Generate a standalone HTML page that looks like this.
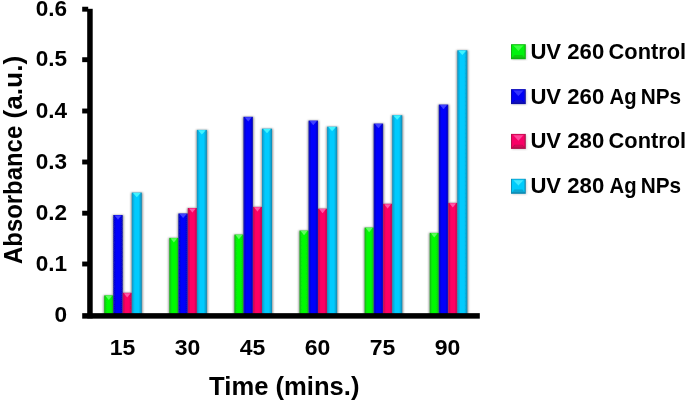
<!DOCTYPE html>
<html lang="en"><head><meta charset="utf-8"><title>Absorbance vs Time</title>
<style>
html,body{margin:0;padding:0;background:#fff;}
body{width:685px;height:401px;overflow:hidden;}
svg{display:block;}
text{font-family:"Liberation Sans",sans-serif;font-weight:bold;fill:#000;}
</style></head><body>
<svg width="685" height="401" viewBox="0 0 685 401">
<defs>
<linearGradient id="gg" x1="0" x2="1" y1="0" y2="0"><stop offset="0" stop-color="#14b414"/><stop offset="0.3" stop-color="#02fb04"/><stop offset="0.7" stop-color="#02fb04"/><stop offset="1" stop-color="#14b414"/></linearGradient>
<linearGradient id="gb" x1="0" x2="1" y1="0" y2="0"><stop offset="0" stop-color="#0a0ab0"/><stop offset="0.3" stop-color="#0202fc"/><stop offset="0.7" stop-color="#0202fc"/><stop offset="1" stop-color="#0a0ab0"/></linearGradient>
<linearGradient id="gp" x1="0" x2="1" y1="0" y2="0"><stop offset="0" stop-color="#b80a50"/><stop offset="0.3" stop-color="#fd0264"/><stop offset="0.7" stop-color="#fd0264"/><stop offset="1" stop-color="#b80a50"/></linearGradient>
<linearGradient id="gc" x1="0" x2="1" y1="0" y2="0"><stop offset="0" stop-color="#1290be"/><stop offset="0.3" stop-color="#02cbfe"/><stop offset="0.7" stop-color="#02cbfe"/><stop offset="1" stop-color="#0e88b2"/></linearGradient>
<filter id="sh" x="-20%" y="-5%" width="140%" height="110%"><feGaussianBlur stdDeviation="1.1"/></filter>
<filter id="soft" x="-5%" y="-5%" width="110%" height="110%"><feGaussianBlur stdDeviation="0.6"/></filter>
<filter id="lsoft" x="-10%" y="-10%" width="120%" height="120%"><feGaussianBlur stdDeviation="0.7"/></filter>
<filter id="tsoft" x="-5%" y="-20%" width="110%" height="140%"><feGaussianBlur stdDeviation="0.35"/></filter>
</defs>
<rect width="685" height="401" fill="#fff"/>

<g filter="url(#sh)" fill="#000" opacity="0.42">
<rect x="103.4" y="295.4" width="10.9" height="20.6"/>
<rect x="112.5" y="215.0" width="11.2" height="101.0"/>
<rect x="121.9" y="292.8" width="10.9" height="23.2"/>
<rect x="131.0" y="192.6" width="11.8" height="123.4"/>
<rect x="168.5" y="237.9" width="10.9" height="78.1"/>
<rect x="177.6" y="213.5" width="11.2" height="102.5"/>
<rect x="187.0" y="208.0" width="10.9" height="108.0"/>
<rect x="196.1" y="129.9" width="11.8" height="186.1"/>
<rect x="233.6" y="234.6" width="10.9" height="81.4"/>
<rect x="242.7" y="116.8" width="11.2" height="199.2"/>
<rect x="252.1" y="206.9" width="10.9" height="109.1"/>
<rect x="261.2" y="128.7" width="11.8" height="187.3"/>
<rect x="298.7" y="230.6" width="10.9" height="85.4"/>
<rect x="307.8" y="120.6" width="11.2" height="195.4"/>
<rect x="317.2" y="208.7" width="10.9" height="107.3"/>
<rect x="326.3" y="126.7" width="11.8" height="189.3"/>
<rect x="363.8" y="227.6" width="10.9" height="88.4"/>
<rect x="372.9" y="123.6" width="11.2" height="192.4"/>
<rect x="382.3" y="203.8" width="10.9" height="112.2"/>
<rect x="391.4" y="115.2" width="11.8" height="200.8"/>
<rect x="428.9" y="232.9" width="10.9" height="83.1"/>
<rect x="438.0" y="104.6" width="11.2" height="211.4"/>
<rect x="447.4" y="202.9" width="10.9" height="113.1"/>
<rect x="456.5" y="50.3" width="11.8" height="265.7"/>
</g>
<g filter="url(#soft)">
<rect x="104.2" y="295.4" width="9.1" height="20.6" fill="url(#gg)"/>
<path d="M105.4 295.8 L112.1 295.8 L108.8 300.0 Z" fill="#5cff5c"/>
<rect x="113.3" y="215.0" width="9.4" height="101.0" fill="url(#gb)"/>
<path d="M114.5 215.4 L121.5 215.4 L118.0 219.6 Z" fill="#4040ff"/>
<rect x="122.7" y="292.8" width="9.1" height="23.2" fill="url(#gp)"/>
<path d="M123.9 293.2 L130.6 293.2 L127.2 297.4 Z" fill="#ff58a8"/>
<rect x="131.8" y="192.6" width="10.0" height="123.4" fill="url(#gc)"/>
<path d="M133.0 193.0 L140.6 193.0 L136.8 197.2 Z" fill="#40f4ff"/>
<rect x="169.3" y="237.9" width="9.1" height="78.1" fill="url(#gg)"/>
<path d="M170.5 238.3 L177.2 238.3 L173.9 242.5 Z" fill="#5cff5c"/>
<rect x="178.4" y="213.5" width="9.4" height="102.5" fill="url(#gb)"/>
<path d="M179.6 213.9 L186.6 213.9 L183.1 218.1 Z" fill="#4040ff"/>
<rect x="187.8" y="208.0" width="9.1" height="108.0" fill="url(#gp)"/>
<path d="M189.0 208.4 L195.7 208.4 L192.4 212.6 Z" fill="#ff58a8"/>
<rect x="196.9" y="129.9" width="10.0" height="186.1" fill="url(#gc)"/>
<path d="M198.1 130.3 L205.7 130.3 L201.9 134.5 Z" fill="#40f4ff"/>
<rect x="234.4" y="234.6" width="9.1" height="81.4" fill="url(#gg)"/>
<path d="M235.6 235.0 L242.3 235.0 L238.9 239.2 Z" fill="#5cff5c"/>
<rect x="243.5" y="116.8" width="9.4" height="199.2" fill="url(#gb)"/>
<path d="M244.7 117.2 L251.7 117.2 L248.2 121.4 Z" fill="#4040ff"/>
<rect x="252.9" y="206.9" width="9.1" height="109.1" fill="url(#gp)"/>
<path d="M254.1 207.3 L260.8 207.3 L257.4 211.5 Z" fill="#ff58a8"/>
<rect x="262.0" y="128.7" width="10.0" height="187.3" fill="url(#gc)"/>
<path d="M263.2 129.1 L270.8 129.1 L267.0 133.3 Z" fill="#40f4ff"/>
<rect x="299.5" y="230.6" width="9.1" height="85.4" fill="url(#gg)"/>
<path d="M300.7 231.0 L307.4 231.0 L304.1 235.2 Z" fill="#5cff5c"/>
<rect x="308.6" y="120.6" width="9.4" height="195.4" fill="url(#gb)"/>
<path d="M309.8 121.0 L316.8 121.0 L313.3 125.2 Z" fill="#4040ff"/>
<rect x="318.0" y="208.7" width="9.1" height="107.3" fill="url(#gp)"/>
<path d="M319.2 209.1 L325.9 209.1 L322.6 213.3 Z" fill="#ff58a8"/>
<rect x="327.1" y="126.7" width="10.0" height="189.3" fill="url(#gc)"/>
<path d="M328.3 127.1 L335.9 127.1 L332.1 131.3 Z" fill="#40f4ff"/>
<rect x="364.6" y="227.6" width="9.1" height="88.4" fill="url(#gg)"/>
<path d="M365.8 228.0 L372.5 228.0 L369.1 232.2 Z" fill="#5cff5c"/>
<rect x="373.7" y="123.6" width="9.4" height="192.4" fill="url(#gb)"/>
<path d="M374.9 124.0 L381.9 124.0 L378.4 128.2 Z" fill="#4040ff"/>
<rect x="383.1" y="203.8" width="9.1" height="112.2" fill="url(#gp)"/>
<path d="M384.3 204.2 L391.0 204.2 L387.6 208.4 Z" fill="#ff58a8"/>
<rect x="392.2" y="115.2" width="10.0" height="200.8" fill="url(#gc)"/>
<path d="M393.4 115.6 L401.0 115.6 L397.2 119.8 Z" fill="#40f4ff"/>
<rect x="429.7" y="232.9" width="9.1" height="83.1" fill="url(#gg)"/>
<path d="M430.9 233.3 L437.6 233.3 L434.2 237.5 Z" fill="#5cff5c"/>
<rect x="438.8" y="104.6" width="9.4" height="211.4" fill="url(#gb)"/>
<path d="M440.0 105.0 L447.0 105.0 L443.5 109.2 Z" fill="#4040ff"/>
<rect x="448.2" y="202.9" width="9.1" height="113.1" fill="url(#gp)"/>
<path d="M449.4 203.3 L456.1 203.3 L452.8 207.5 Z" fill="#ff58a8"/>
<rect x="457.3" y="50.3" width="10.0" height="265.7" fill="url(#gc)"/>
<path d="M458.5 50.7 L466.1 50.7 L462.3 54.9 Z" fill="#40f4ff"/>
</g>
<g filter="url(#soft)" fill="#000">
<rect x="87.2" y="8.8" width="5.5" height="309.6"/>
<rect x="82.2" y="313.15" width="397.6" height="5.5"/>
<rect x="82.2" y="261.55" width="6" height="4.9"/>
<rect x="82.2" y="210.75" width="6" height="4.9"/>
<rect x="82.2" y="159.55" width="6" height="4.9"/>
<rect x="82.2" y="108.55" width="6" height="4.9"/>
<rect x="82.2" y="57.25" width="6" height="4.9"/>
<rect x="82.2" y="6.75" width="6" height="4.9"/>
</g>
<g filter="url(#tsoft)">
<text x="67.1" y="322.4" font-size="22.3" text-anchor="end" textLength="12.6" lengthAdjust="spacingAndGlyphs">0</text>
<text x="67.1" y="270.5" font-size="22.3" text-anchor="end" textLength="31.4" lengthAdjust="spacingAndGlyphs">0.1</text>
<text x="67.1" y="219.7" font-size="22.3" text-anchor="end" textLength="31.4" lengthAdjust="spacingAndGlyphs">0.2</text>
<text x="67.1" y="168.5" font-size="22.3" text-anchor="end" textLength="31.4" lengthAdjust="spacingAndGlyphs">0.3</text>
<text x="67.1" y="117.5" font-size="22.3" text-anchor="end" textLength="31.4" lengthAdjust="spacingAndGlyphs">0.4</text>
<text x="67.1" y="66.2" font-size="22.3" text-anchor="end" textLength="31.4" lengthAdjust="spacingAndGlyphs">0.5</text>
<text x="67.1" y="15.7" font-size="22.3" text-anchor="end" textLength="31.4" lengthAdjust="spacingAndGlyphs">0.6</text>
<text x="122.6" y="355.0" font-size="22.3" text-anchor="middle" textLength="25.6" lengthAdjust="spacingAndGlyphs">15</text>
<text x="187.6" y="355.0" font-size="22.3" text-anchor="middle" textLength="25.6" lengthAdjust="spacingAndGlyphs">30</text>
<text x="252.6" y="355.0" font-size="22.3" text-anchor="middle" textLength="25.6" lengthAdjust="spacingAndGlyphs">45</text>
<text x="317.6" y="355.0" font-size="22.3" text-anchor="middle" textLength="25.6" lengthAdjust="spacingAndGlyphs">60</text>
<text x="382.6" y="355.0" font-size="22.3" text-anchor="middle" textLength="25.6" lengthAdjust="spacingAndGlyphs">75</text>
<text x="447.6" y="355.0" font-size="22.3" text-anchor="middle" textLength="25.6" lengthAdjust="spacingAndGlyphs">90</text>
<text x="284.3" y="394.7" font-size="25" text-anchor="middle" textLength="150.4" lengthAdjust="spacingAndGlyphs">Time (mins.)</text>
<text transform="translate(21.8,0) rotate(-90)" font-size="25"><tspan x="-264" textLength="138.2" lengthAdjust="spacingAndGlyphs">Absorbance</tspan> <tspan x="-118.6" textLength="62.8" lengthAdjust="spacingAndGlyphs">(a.u.)</tspan></text>
</g>
<rect filter="url(#sh)" x="512" y="45.2" width="14.6" height="14.6" fill="#000" opacity="0.18"/>
<g filter="url(#lsoft)"><rect x="511" y="44.2" width="14.8" height="15" fill="#12b012"/><rect x="511.9" y="44.8" width="12.6" height="12.8" fill="#04f208"/><path d="M513.4 45.6 L523.4 45.6 L518.4 51.0 Z" fill="#50ff54" opacity="0.8"/><path d="M511.5 58.6 L525.3 58.6 L522.4 55.0 L514.4 55.0 Z" fill="#12b012" opacity="0.6"/></g>
<text filter="url(#tsoft)" y="58.7" font-size="22"><tspan x="530.4" textLength="73.8" lengthAdjust="spacingAndGlyphs">UV 260</tspan> <tspan x="608.6" textLength="77.5" lengthAdjust="spacingAndGlyphs">Control</tspan></text>
<rect filter="url(#sh)" x="512" y="90.1" width="14.6" height="14.6" fill="#000" opacity="0.18"/>
<g filter="url(#lsoft)"><rect x="511" y="89.1" width="14.8" height="15" fill="#0a0aa8"/><rect x="511.9" y="89.7" width="12.6" height="12.8" fill="#0404f6"/><path d="M513.4 90.5 L523.4 90.5 L518.4 95.9 Z" fill="#4444ff" opacity="0.8"/><path d="M511.5 103.5 L525.3 103.5 L522.4 99.9 L514.4 99.9 Z" fill="#0a0aa8" opacity="0.6"/></g>
<text filter="url(#tsoft)" y="103.6" font-size="22"><tspan x="530.4" textLength="73.8" lengthAdjust="spacingAndGlyphs">UV 260</tspan> <tspan x="609.6" textLength="27.0" lengthAdjust="spacingAndGlyphs">Ag</tspan> <tspan x="640.7" textLength="40.4" lengthAdjust="spacingAndGlyphs">NPs</tspan></text>
<rect filter="url(#sh)" x="512" y="134.9" width="14.6" height="14.6" fill="#000" opacity="0.18"/>
<g filter="url(#lsoft)"><rect x="511" y="133.9" width="14.8" height="15" fill="#b00a4c"/><rect x="511.9" y="134.5" width="12.6" height="12.8" fill="#f80466"/><path d="M513.4 135.3 L523.4 135.3 L518.4 140.7 Z" fill="#ff58a8" opacity="0.8"/><path d="M511.5 148.3 L525.3 148.3 L522.4 144.7 L514.4 144.7 Z" fill="#b00a4c" opacity="0.6"/></g>
<text filter="url(#tsoft)" y="148.4" font-size="22"><tspan x="530.4" textLength="73.8" lengthAdjust="spacingAndGlyphs">UV 280</tspan> <tspan x="608.6" textLength="77.5" lengthAdjust="spacingAndGlyphs">Control</tspan></text>
<rect filter="url(#sh)" x="512" y="179.8" width="14.6" height="14.6" fill="#000" opacity="0.18"/>
<g filter="url(#lsoft)"><rect x="511" y="178.8" width="14.8" height="15" fill="#0e8cb4"/><rect x="511.9" y="179.4" width="12.6" height="12.8" fill="#04ccfc"/><path d="M513.4 180.2 L523.4 180.2 L518.4 185.6 Z" fill="#50f0ff" opacity="0.8"/><path d="M511.5 193.2 L525.3 193.2 L522.4 189.6 L514.4 189.6 Z" fill="#0e8cb4" opacity="0.6"/></g>
<text filter="url(#tsoft)" y="193.3" font-size="22"><tspan x="530.4" textLength="73.8" lengthAdjust="spacingAndGlyphs">UV 280</tspan> <tspan x="609.6" textLength="27.0" lengthAdjust="spacingAndGlyphs">Ag</tspan> <tspan x="640.7" textLength="40.4" lengthAdjust="spacingAndGlyphs">NPs</tspan></text>
</svg></body></html>
